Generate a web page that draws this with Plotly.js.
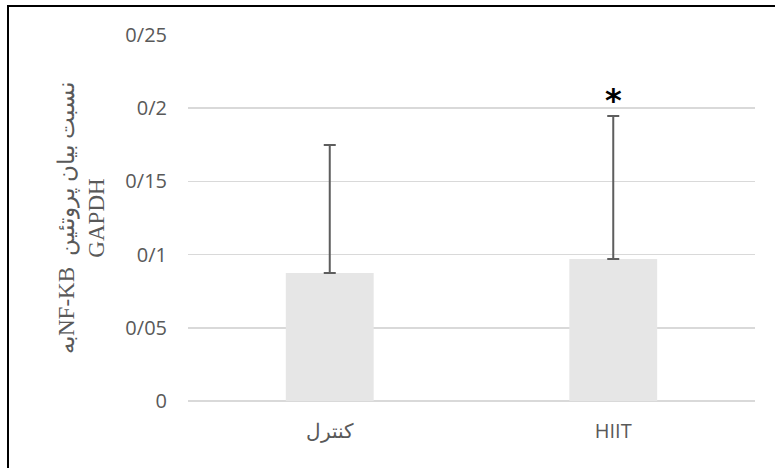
<!DOCTYPE html>
<html>
<head>
<meta charset="utf-8">
<script src="https://cdn.plot.ly/plotly-3.0.1.min.js"></script>
<style>
  html, body { margin: 0; padding: 0; background: #fff; }
  #wrap { position: relative; width: 775px; height: 468px; overflow: hidden; }
  #chart { position: absolute; left: 0; top: 0; width: 775px; height: 468px; }
  #frame { position: absolute; left: 7px; top: 5px; width: 800px; height: 500px;
           border-top: 2px solid #000; border-left: 2px solid #000; pointer-events: none; }
</style>
</head>
<body>
<div id="wrap">
  <div id="chart"></div>
  <div id="frame"></div>
</div>
<script>
const categories = ['کنترل', 'HIIT'];
const means = [0.0874, 0.097];
const errorsPlus = [0.0875, 0.0977];
const errorsMinus = [0, 0];
const tickValues = [0, 0.05, 0.1, 0.15, 0.2, 0.25];
const tickLabels = ['0', '0/05', '0/1', '0/15', '0/2', '0/25'];
const yTitle = '\u202Bنسبت بیان پروتئین  NF-KBبه\u202C<br>GAPDH';
const significance = ['', '*'];

const trace = {
  type: 'bar',
  x: categories,
  y: means,
  marker: { color: '#e6e6e6' },
  error_y: {
    type: 'data',
    symmetric: false,
    array: errorsPlus,
    arrayminus: errorsMinus,
    color: '#5e5e5e',
    thickness: 2,
    width: 6
  },
  hoverinfo: 'x+y'
};

const annotations = categories.map((c, i) => ({
  x: c, y: means[i] + errorsPlus[i],
  xref: 'x', yref: 'y',
  text: '<b>' + significance[i] + '</b>',
  showarrow: false,
  yanchor: 'bottom',
  yshift: -5,
  font: { family: 'DejaVu Sans, sans-serif', size: 32, color: '#000' }
})).filter((a, i) => significance[i]);

const layout = {
  width: 775, height: 468,
  margin: { l: 188, r: 20, t: 35, b: 67 },
  paper_bgcolor: '#fff', plot_bgcolor: '#fff',
  showlegend: false,
  bargap: 0.69,
  font: { family: 'Open Sans, sans-serif', size: 20, color: '#595959' },
  xaxis: {
    type: 'category',
    showgrid: false, showline: false, zeroline: false,
    ticks: '', ticklabelstandoff: 16,
    tickfont: { family: 'Open Sans, sans-serif', size: 20, color: '#595959' },
    fixedrange: true
  },
  yaxis: {
    range: [0, 0.25],
    tickmode: 'array', tickvals: tickValues, ticktext: tickLabels,
    showgrid: true, gridcolor: '#d9d9d9', gridwidth: 1.5,
    zeroline: true, zerolinecolor: '#d9d9d9', zerolinewidth: 1.5,
    showline: false, ticks: '', ticklabelstandoff: 20,
    tickfont: { family: 'Open Sans, sans-serif', size: 20, color: '#595959' },
    title: {
      text: yTitle,
      standoff: 14,
      font: { family: 'Liberation Serif, Times New Roman, serif', size: 23, color: '#595959' }
    },
    automargin: false,
    fixedrange: true
  },
  annotations: annotations
};

Plotly.newPlot('chart', [trace], layout, { displayModeBar: false, staticPlot: true });
</script>
</body>
</html>
